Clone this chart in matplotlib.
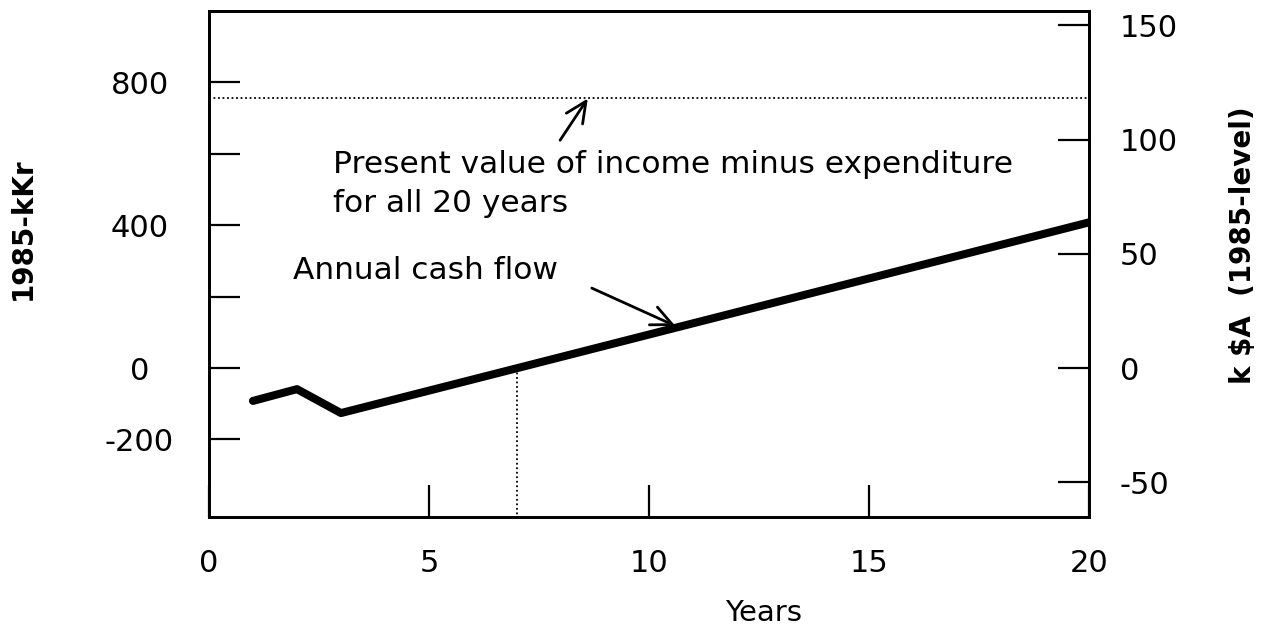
import matplotlib
matplotlib.use("Agg")
import matplotlib.pyplot as plt

# annual cash flow (1985-kKr)
years = [1, 2, 3, 20]
cash_flow = [-92, -59, -126, 408]

present_value = 757      # kKr, dotted horizontal line
payback_year = 7.0       # where the cash flow crosses zero

left_ticks = [-200, 0, 200, 400, 600, 800]
left_labels = ["-200", "0", "", "400", "", "800"]
right_ticks = [-50, 0, 50, 100, 150]
x_ticks = [0, 5, 10, 15, 20]
kr_per_aud = 6.4         # scale between the two y axes

plt.rcParams["font.family"] = "DejaVu Sans"
plt.rcParams["axes.unicode_minus"] = False

fig = plt.figure(figsize=(12.71, 6.31), dpi=100)
ax = fig.add_axes([0.1644, 0.1807, 0.6924, 0.8019])

ax.plot(years, cash_flow, color="black", lw=5.8, solid_capstyle="round",
        solid_joinstyle="round")
ax.axhline(present_value, color="black", lw=1.3, ls=(0, (1, 1.5)))
ax.plot([payback_year, payback_year], [0, -417], color="black", lw=1.3,
        ls=(0, (1, 1.5)))

ax.set_xlim(0, 20)
ax.set_ylim(-417, 1000)
ax.set_xticks(x_ticks)
ax.set_yticks(left_ticks)
ax.set_yticklabels(left_labels)

for s in ax.spines.values():
    s.set_linewidth(2)

ax.tick_params(axis="x", direction="in", length=23, width=1.6, labelsize=22, pad=23)
ax.tick_params(axis="y", direction="in", length=22, width=1.6, labelsize=22, pad=50)
for lab in ax.get_yticklabels():
    lab.set_horizontalalignment("center")

ax.set_xlabel("Years", fontsize=21)
ax.xaxis.set_label_coords(0.63, -0.19)
ax.xaxis.label.set_verticalalignment("center")
ax.set_ylabel("1985-kKr", fontsize=20, fontweight="bold")
ax.yaxis.set_label_coords(-0.195, 0.569)

ax2 = ax.twinx()
ax2.set_ylim(-417 / kr_per_aud, 1000 / kr_per_aud)
ax2.set_yticks(right_ticks)
ax2.tick_params(axis="y", direction="in", length=22, width=1.6, labelsize=22, pad=22)
ax2.set_ylabel("k $A  (1985-level)", fontsize=20, fontweight="bold")
ax2.yaxis.set_label_coords(1.159, 0.538)
for s in ax2.spines.values():
    s.set_linewidth(2)

# annotations
ax.text(2.82, 515, "Present value of income minus expenditure\nfor all 20 years",
        fontsize=22.5, ha="left", va="center", linespacing=1.45)
ax.annotate("", xy=(8.61, 755), xytext=(7.98, 638),
            arrowprops=dict(arrowstyle="->, head_length=0.75, head_width=0.35",
                            color="black", lw=2, mutation_scale=20,
                            shrinkA=0, shrinkB=0))

ax.text(1.91, 274, "Annual cash flow", fontsize=22.5, ha="left", va="center")
ax.annotate("", xy=(10.6, 118), xytext=(8.7, 224),
            arrowprops=dict(arrowstyle="->, head_length=0.75, head_width=0.35",
                            color="black", lw=2, mutation_scale=20,
                            shrinkA=0, shrinkB=0))

fig.savefig("out.png", dpi=100)
